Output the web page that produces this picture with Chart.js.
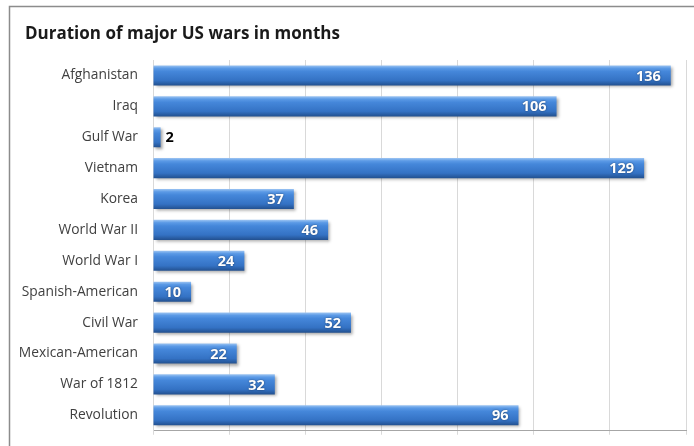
<!DOCTYPE html>
<html>
<head>
<meta charset="utf-8">
<script src="https://cdn.jsdelivr.net/npm/chart.js@4.4.1/dist/chart.umd.min.js"></script>
<style>
  html, body { margin: 0; padding: 0; background: #fff; }
  #wrap { width: 694px; height: 446px; }
</style>
</head>
<body>
<div id="wrap"><canvas id="wars"></canvas></div>
<script>
const wars = ['Afghanistan', 'Iraq', 'Gulf War', 'Vietnam', 'Korea', 'World War II',
  'World War I', 'Spanish-American', 'Civil War', 'Mexican-American', 'War of 1812', 'Revolution'];
const months = [136, 106, 2, 129, 37, 46, 24, 10, 52, 22, 32, 96];
const xTicks = [0, 20, 40, 60, 80, 100, 120, 140];
const chartTitle = 'Duration of major US wars in months';

const FONT = "'Open Sans', 'DejaVu Sans', sans-serif";
const BAR_FRAC = 0.65;

// bevelled blue fill, one gradient per bar
function barFill(context) {
  const chart = context.chart;
  const y = chart.scales && chart.scales.y;
  if (!chart.chartArea || !y || y.getPixelForValue(0) === undefined) return '#3a7bd0';
  const c = y.getPixelForValue(context.dataIndex);
  const half = (chart.chartArea.height / wars.length) * BAR_FRAC / 2;
  const g = chart.ctx.createLinearGradient(0, c - half, 0, c + half);
  g.addColorStop(0, '#9cc4f2');
  g.addColorStop(0.14, '#5b9ae6');
  g.addColorStop(0.3, '#4587da');
  g.addColorStop(0.75, '#3472c4');
  g.addColorStop(1, '#22508f');
  return g;
}

// outer frame, white background and the heading
const framePlugin = {
  id: 'frame',
  beforeDraw(chart) {
    const ctx = chart.ctx;
    ctx.save();
    ctx.fillStyle = '#fff';
    ctx.fillRect(0, 0, chart.width, chart.height);
    ctx.strokeStyle = '#8c8c8c';
    ctx.lineWidth = 1.5;
    ctx.beginPath();
    ctx.moveTo(9.5, chart.height + 2);
    ctx.lineTo(9.5, 6.5);
    ctx.lineTo(chart.width + 2, 6.5);
    ctx.stroke();
    ctx.fillStyle = '#1a1a1a';
    ctx.font = "bold 17px " + FONT;
    ctx.textAlign = 'left';
    ctx.textBaseline = 'alphabetic';
    ctx.fillText(chartTitle, 25, 39);
    ctx.restore();
  }
};

// soft drop shadow under the bars
const shadowPlugin = {
  id: 'barShadow',
  beforeDatasetsDraw(chart) {
    const ctx = chart.ctx;
    ctx.save();
    ctx.shadowColor = 'rgba(0, 0, 0, 0.35)';
    ctx.shadowBlur = 3;
    ctx.shadowOffsetX = 2;
    ctx.shadowOffsetY = 2;
  },
  afterDatasetsDraw(chart) {
    chart.ctx.restore();
  }
};

// value labels: white inside the bar end, black outside for short bars
const valuePlugin = {
  id: 'values',
  afterDatasetsDraw(chart) {
    const ctx = chart.ctx;
    const meta = chart.getDatasetMeta(0);
    ctx.save();
    ctx.font = "bold 14.5px " + FONT;
    ctx.textBaseline = 'middle';
    meta.data.forEach((bar, i) => {
      const txt = String(months[i]);
      const w = ctx.measureText(txt).width;
      const len = bar.x - bar.base;
      if (len > w + 16) {
        ctx.textAlign = 'right';
        ctx.shadowColor = 'rgba(0, 0, 0, 0.5)';
        ctx.shadowBlur = 2;
        ctx.fillStyle = '#ffffff';
        ctx.fillText(txt, bar.x - 10, bar.y + 1);
      } else {
        ctx.textAlign = 'left';
        ctx.shadowColor = 'transparent';
        ctx.fillStyle = '#000000';
        ctx.fillText(txt, bar.x + 5, bar.y + 1);
      }
    });
    ctx.restore();
  }
};

new Chart(document.getElementById('wars'), {
  type: 'bar',
  data: {
    labels: wars,
    datasets: [{
      label: 'Months',
      data: months,
      backgroundColor: barFill,
      borderWidth: 0,
      categoryPercentage: 1,
      barPercentage: BAR_FRAC
    }]
  },
  options: {
    indexAxis: 'y',
    responsive: true,
    maintainAspectRatio: false,
    animation: false,
    layout: { padding: { left: 12, top: 60, right: 8, bottom: 9 } },
    plugins: {
      legend: { display: false },
      tooltip: { enabled: false },
      title: { display: false }
    },
    scales: {
      x: {
        min: xTicks[0],
        max: xTicks[xTicks.length - 1],
        afterBuildTicks: scale => { scale.ticks = xTicks.map(v => ({ value: v })); },
        ticks: { display: false },
        grid: { color: '#d9d9d9', tickLength: 4, drawTicks: true, tickColor: '#d9d9d9' },
        border: { display: true, color: '#a6a6a6', width: 1 }
      },
      y: {
        afterFit: scale => { scale.width = 141; },
        ticks: {
          color: '#404040',
          padding: 7,
          font: { family: FONT, size: 13.8 }
        },
        grid: { display: false },
        border: { display: true, color: '#d9d9d9' }
      }
    }
  },
  plugins: [framePlugin, shadowPlugin, valuePlugin]
});
</script>
</body>
</html>
